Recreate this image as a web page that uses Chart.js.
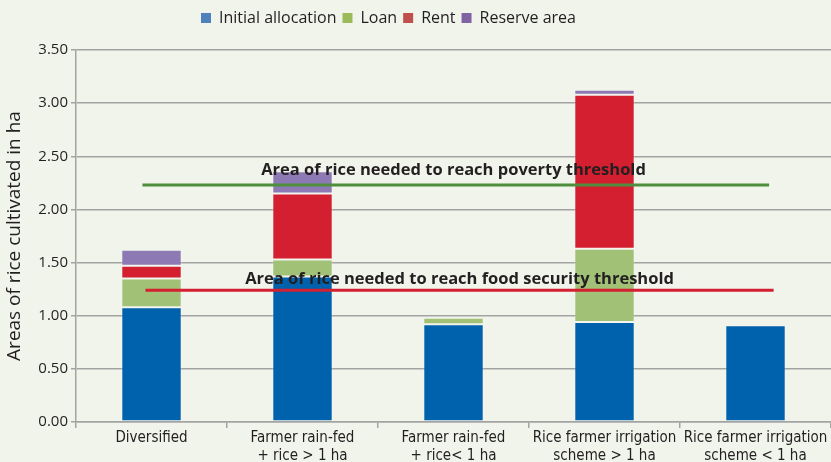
<!DOCTYPE html>
<html><head><meta charset="utf-8">
<script src="https://cdn.jsdelivr.net/npm/chart.js@4/dist/chart.umd.min.js"></script>
<style>html,body{margin:0;padding:0;background:#F1F4EB;} #wrap{width:831px;height:462px;position:relative}</style>
</head><body><div id="wrap"><canvas id="c"></canvas></div>
<script>
const categories = [["Diversified"],["Farmer rain-fed","+ rice > 1 ha"],["Farmer rain-fed","+ rice< 1 ha"],["Rice farmer irrigation","scheme > 1 ha"],["Rice farmer irrigation","scheme < 1 ha"]];
const seriesNames = ["Initial allocation","Loan","Rent","Reserve area"];
const initialAllocation = [1.08, 1.37, 0.92, 0.94, 0.91];
const loan = [0.27, 0.16, 0.06, 0.69, null];
const rent = [0.12, 0.62, null, 1.45, null];
const reserveArea = [0.15, 0.21, null, 0.045, null];
const yTickLabels = ["0.00","0.50","1.00","1.50","2.00","2.50","3.00","3.50"];
const thresholdNames = ["Area of rice needed to reach poverty threshold","Area of rice needed to reach food security threshold"];
const thresholdValues = [2.23, 1.24];
const thresholdStart = [-0.06, -0.04];
const thresholdEnd = [4.09, 4.12];
const thresholdLabelX = [2.0, 2.04];
const thresholdLabelY = [2.37, 1.345];

const barColors = ['#0061AD','#A1C276','#D41F31','#8D7AB4'];
const legendColors = ['#4F81BD','#9BBB59','#C0504D','#8064A2'];
const lineColors = ['#4E8E3C','#D41F31'];
const seriesData = [initialAllocation, loan, rent, reserveArea];
const textColor = '#231F20';
const gridColor = '#A3A3A3';

const datasets = seriesData.map((d,i)=>({
  type:'bar', label: seriesNames[i], data: d, backgroundColor: barColors[i],
  borderColor:'rgba(255,255,255,0.25)', borderWidth:1, borderSkipped:false,
  xAxisID:'x', yAxisID:'y', order:2, grouped:false,
  categoryPercentage:1, barPercentage:0.4
}));
thresholdValues.forEach((v,i)=>{
  datasets.push({type:'line', label: thresholdNames[i],
    data:[{x:thresholdStart[i], y:v},{x:thresholdEnd[i], y:v}],
    borderColor: lineColors[i], borderWidth:3, pointRadius:0, fill:false,
    xAxisID:'x2', yAxisID:'y2', order:0});
});

const thresholdText = {
  id:'thresholdText',
  afterDatasetsDraw(chart){
    const ctx = chart.ctx, x2 = chart.scales.x2, y = chart.scales.y;
    ctx.save();
    ctx.font = 'bold 16.5px "Open Sans"';
    ctx.fillStyle = textColor; ctx.textAlign='center'; ctx.textBaseline='middle';
    thresholdNames.forEach((t,i)=>{
      ctx.fillText(t, x2.getPixelForValue(thresholdLabelX[i]), y.getPixelForValue(thresholdLabelY[i]));
    });
    ctx.restore();
  }
};
const legendFit = {
  id:'legendFit',
  beforeInit(chart){
    const lg = chart.legend; const orig = lg.fit;
    lg.fit = function(){ orig.call(this); this.height = 50; };
  },
  afterLayout(chart){ chart.legend.left = 195; chart.legend.top = 4; }
};

new Chart(document.getElementById('c'), {
  data:{ labels: categories, datasets },
  plugins:[thresholdText, legendFit],
  options:{
    responsive:true, maintainAspectRatio:false, animation:false,
    layout:{padding:0},
    plugins:{
      tooltip:{enabled:false},
      legend:{ position:'top', align:'start',
        labels:{ boxWidth:10, boxHeight:10, padding:6, color:textColor,
          font:{family:'"Open Sans"', size:16},
          generateLabels:(chart)=> seriesNames.map((n,i)=>({text:n, fillStyle:legendColors[i], strokeStyle:legendColors[i], lineWidth:0, datasetIndex:i, fontColor:textColor}))
        }
      }
    },
    scales:{
      x:{ type:'category', offset:true, stacked:true,
        grid:{display:true, drawOnChartArea:false, drawTicks:true, tickLength:6, color:gridColor, lineWidth:1.5, offset:true},
        border:{display:true, color:gridColor, width:1.5},
        ticks:{color:textColor, font:{family:'"Liberation Sans Narrow","DejaVu Sans Condensed",sans-serif', size:15}, padding:1, maxRotation:0, autoSkip:false},
        afterFit(s){ s.height = 40; }
      },
      x2:{ type:'linear', display:false, min:-0.5, max:4.5 },
      y:{ type:'linear', stacked:true, min:0, max:3.5,
        ticks:{stepSize:0.5, color:textColor, font:{family:'"Open Sans"', size:15}, padding:3,
          callback:(v,i)=> yTickLabels[i]},
        grid:{color:gridColor, lineWidth:1.5, tickLength:5},
        border:{display:true, color:gridColor, width:1.5},
        title:{display:true, text:'Areas of rice cultivated in ha', color:textColor, font:{family:'"Open Sans"', size:19}, padding:{top:3,bottom:0}},
        afterFit(s){ s.width = 76; }
      },
      y2:{ type:'linear', display:false, min:0, max:3.5 }
    }
  }
});
</script></body></html>
